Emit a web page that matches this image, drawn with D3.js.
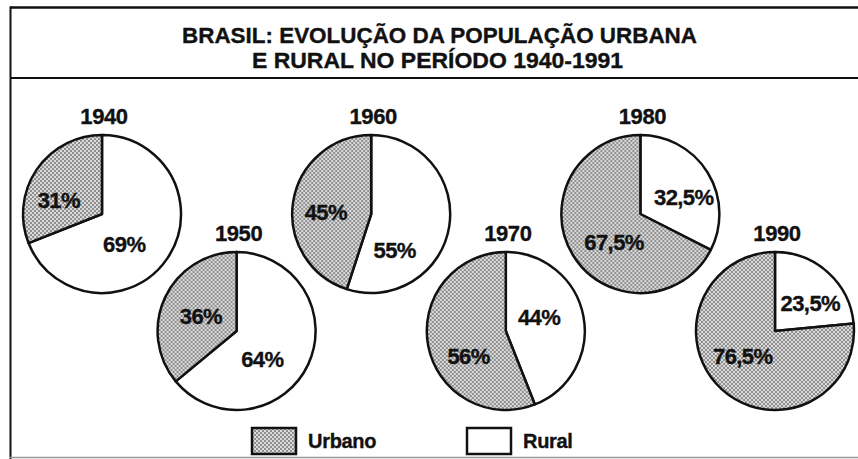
<!DOCTYPE html>
<html lang="pt">
<head>
  <meta charset="UTF-8">
  <title>Brasil: evolução da população urbana e rural</title>
  <script src="https://d3js.org/d3.v7.min.js"></script>
  <style>
    html, body { margin: 0; padding: 0; background: #fff; }
    svg { display: block; }
    text { font-family: "Liberation Sans", Arial, sans-serif; font-weight: bold; fill: #111; stroke: #111; stroke-width: 0.35px; }
  </style>
</head>
<body>
<svg id="canvas" width="858" height="459"></svg>
<script>
  // data
  const years = [1940, 1950, 1960, 1970, 1980, 1990];
  const urbano = [31, 36, 45, 56, 67.5, 76.5];
  const rural = [69, 64, 55, 44, 32.5, 23.5];
  const seriesNames = ["Urbano", "Rural"];
  const titleLines = ["BRASIL: EVOLUÇÃO DA POPULAÇÃO URBANA", "E RURAL NO PERÍODO 1940-1991"];

  // label nudges (layout only), [urbano, rural] per pie
  const labelNudge = [
    [[-6, 12], [-15, 5]],
    [[5, 5], [-15, 9]],
    [[-1, 6], [-21, 29]],
    [[7, 17], [-11, -5]],
    [[12, 5], [5, 7]],
    [[-2, -8], [5, 6]]
  ];

  const svg = d3.select('#canvas');
  const W = 858, H = 459;
  const R = 79;

  // stipple pattern for "Urbano"
  const defs = svg.append('defs');
  const pat = defs.append('pattern')
    .attr('id', 'dots')
    .attr('patternUnits', 'userSpaceOnUse')
    .attr('width', 4).attr('height', 4);
  pat.append('rect').attr('width', 4).attr('height', 4).attr('fill', '#dadada');
  pat.append('circle').attr('cx', 1).attr('cy', 1).attr('r', 0.95).attr('fill', '#707070');
  pat.append('circle').attr('cx', 3).attr('cy', 3).attr('r', 0.95).attr('fill', '#707070');

  const fillFor = k => k === 'Urbano' ? 'url(#dots)' : '#fff';

  // frame
  svg.append('line').attr('x1', 10).attr('x2', W).attr('y1', 7.5).attr('y2', 7.5)
    .attr('stroke', '#111').attr('stroke-width', 2.5);
  svg.append('line').attr('x1', 10).attr('x2', W).attr('y1', 78).attr('y2', 78)
    .attr('stroke', '#111').attr('stroke-width', 2);
  svg.append('line').attr('x1', 10.5).attr('x2', 10.5).attr('y1', 6.5).attr('y2', H)
    .attr('stroke', '#111').attr('stroke-width', 2);
  svg.append('line').attr('x1', 10).attr('x2', W).attr('y1', 457.5).attr('y2', 457.5)
    .attr('stroke', '#999').attr('stroke-width', 1.5);

  // title
  svg.append('text').attr('x', 439.5).attr('y', 43).attr('text-anchor', 'middle')
    .attr('font-size', 22).attr('textLength', 515).attr('lengthAdjust', 'spacingAndGlyphs')
    .text(titleLines[0]);
  svg.append('text').attr('x', 437.5).attr('y', 68).attr('text-anchor', 'middle')
    .attr('font-size', 22).attr('textLength', 371).attr('lengthAdjust', 'spacingAndGlyphs')
    .text(titleLines[1]);

  // pies
  const x = d3.scaleLinear().domain([1940, 1990]).range([102, 775]);
  const y = i => i % 2 === 0 ? 214 : 331;

  const pie = d3.pie().sort(null).value(d => d.v);
  const arc = d3.arc().innerRadius(0).outerRadius(R);
  const labelArc = d3.arc().innerRadius(45).outerRadius(45);
  const fmt = v => String(v).replace('.', ',') + '%';

  years.forEach((yr, i) => {
    const g = svg.append('g').attr('transform', `translate(${x(yr)},${y(i)})`);
    // rural goes clockwise from 12 o'clock, urbano fills the rest
    const slices = pie([{ k: 'Rural', v: rural[i] }, { k: 'Urbano', v: urbano[i] }]);

    g.selectAll('path').data(slices).enter().append('path')
      .attr('d', arc)
      .attr('fill', d => fillFor(d.data.k))
      .attr('stroke', '#111')
      .attr('stroke-width', 2.5)
      .attr('stroke-linejoin', 'round');

    g.selectAll('text.pct').data(slices).enter().append('text')
      .attr('class', 'pct')
      .attr('transform', d => {
        const c = labelArc.centroid(d);
        const n = labelNudge[i][d.data.k === 'Urbano' ? 0 : 1];
        return `translate(${c[0] + n[0]},${c[1] + n[1]})`;
      })
      .attr('text-anchor', 'middle')
      .attr('dominant-baseline', 'central')
      .attr('font-size', 22)
      .attr('letter-spacing', -0.6)
      .text(d => fmt(d.data.v));

    g.append('text')
      .attr('x', 2).attr('y', -90)
      .attr('text-anchor', 'middle')
      .attr('font-size', 22)
      .attr('letter-spacing', -0.4)
      .text(yr);
  });

  // legend
  const legend = svg.selectAll('g.legend').data(seriesNames).enter().append('g')
    .attr('class', 'legend')
    .attr('transform', (d, i) => `translate(${i === 0 ? 252 : 467},428)`);
  legend.append('rect')
    .attr('width', 44).attr('height', 26)
    .attr('fill', d => fillFor(d))
    .attr('stroke', '#111').attr('stroke-width', 2.5);
  legend.append('text')
    .attr('x', 56).attr('y', 20)
    .attr('font-size', 20)
    .attr('letter-spacing', -0.3)
    .text(d => d);
</script>
</body>
</html>
